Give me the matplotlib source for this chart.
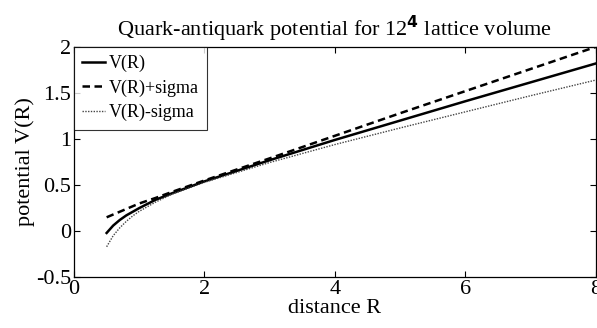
import matplotlib; matplotlib.use('Agg')
import matplotlib.pyplot as plt
from matplotlib.ticker import FuncFormatter

# values
R = [0.5, 0.6, 0.7, 0.8, 0.9, 1.0, 1.25, 1.5, 2, 3, 4, 5, 6, 7, 8]
V = [-0.02, 0.06, 0.12, 0.17, 0.21, 0.25, 0.34, 0.41, 0.54, 0.77, 0.99, 1.20, 1.41, 1.615, 1.82]
V_plus = [0.15, 0.18, 0.21, 0.24, 0.27, 0.30, 0.36, 0.425, 0.55, 0.79, 1.035, 1.28, 1.52, 1.76, 2.0]
V_minus = [-0.17, -0.05, 0.035, 0.105, 0.165, 0.215, 0.315, 0.40, 0.53, 0.745, 0.94, 1.12, 1.295, 1.47, 1.64]

x_ticks = [0, 2, 4, 6, 8]
y_ticks = [-0.5, 0, 0.5, 1, 1.5, 2]

plt.rcParams['font.family'] = ['Liberation Serif', 'DejaVu Serif']
plt.rcParams['mathtext.fontset'] = 'dejavusans'
plt.rcParams['axes.unicode_minus'] = False

fig = plt.figure(figsize=(5.97, 3.28), dpi=100)
ax = fig.add_axes([0.124, 0.155, 0.874, 0.702])

ax.plot(R, V, color='black', lw=1.8, ls='-', label='V(R)')
ax.plot(R, V_plus, color='black', lw=1.8, ls=(0, (3, 1.8)), label='V(R)+sigma')
ax.plot(R, V_minus, color='#444444', lw=1.0, ls=(0, (1, 1)), label='V(R)-sigma')

ax.set_xlim(0, 8)
ax.set_ylim(-0.5, 2)
ax.set_xticks(x_ticks)
ax.set_yticks(y_ticks)
fmt = FuncFormatter(lambda v, p: '%g' % v)
ax.xaxis.set_major_formatter(fmt)
ax.yaxis.set_major_formatter(fmt)
ax.tick_params(direction='in', top=True, right=True, length=4, width=0.8, labelsize=16, pad=2)
for s in ax.spines.values():
    s.set_linewidth(0.9)

ax.set_xlabel('distance R', fontsize=16, labelpad=0)
ax.set_ylabel('potential V(R)', fontsize=16, labelpad=1)
ax.set_title(r'Quark-antiquark potential for 12$^{\mathbf{4}}$ lattice volume', fontsize=16, pad=8)

leg = ax.legend(loc='upper left', fontsize=13, frameon=True, fancybox=False,
                edgecolor='black', handlelength=1.25, handletextpad=0.25,
                borderaxespad=0, borderpad=0.45, labelspacing=0.4)
leg.get_frame().set_linewidth(0.8)

plt.savefig('out.png', dpi=100)
